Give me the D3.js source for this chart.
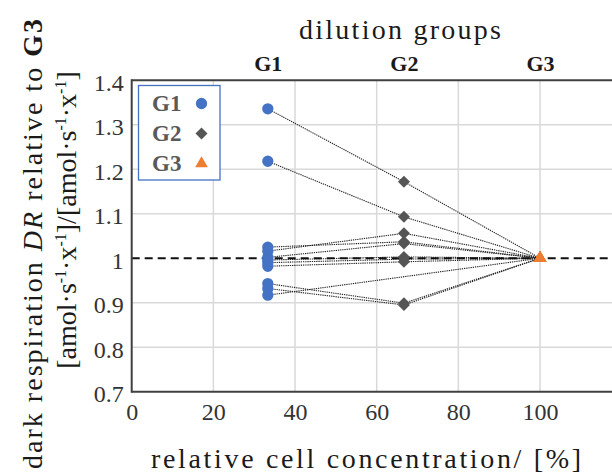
<!DOCTYPE html>
<html>
<head>
<meta charset="utf-8">
<script src="https://cdn.jsdelivr.net/npm/d3@7"></script>
<style>
  html, body { margin: 0; padding: 0; background: #fff; }
  svg { display: block; }
  text { font-family: "Liberation Serif", serif; }
</style>
</head>
<body>
<svg id="chart" width="612" height="475"></svg>
<script>
// Relative cell concentration (%) of each dilution group
const groupNames = ["G1", "G2", "G3"];
const groupConc = [100 / 3, 200 / 3, 100];

// Dark respiration of each culture, relative to its G3 value
const g1Values = [1.336, 1.218, 1.025, 1.016, 1.002, 0.996, 0.990, 0.982, 0.943, 0.932, 0.917];
const g2Values = [1.172, 1.093, 1.037, 1.056, 1.033, 1.003, 0.998, 0.992, 0.899, 0.895, null];
const g3Values = [1.000, 1.000, 1.000, 1.000, 1.000, 1.000, 1.000, 1.000, 1.000, 1.000, 1.000];

const xTicks = [0, 20, 40, 60, 80, 100];
const yTicks = [0.7, 0.8, 0.9, 1.0, 1.1, 1.2, 1.3, 1.4];
const referenceLevel = 1.0;

const groupColors = ["#4472C4", "#555555", "#ED7D31"];
const FONT = "Liberation Serif";
const TITLE_SIZE = 28;

const svg = d3.select("#chart");

const x = d3.scaleLinear().domain([0, 120]).range([131.7, 621.7]);
const y = d3.scaleLinear().domain([0.7, 1.4]).range([391.7, 80.3]);

// gridlines
const grid = svg.append("g").attr("stroke", "#d9d9d9").attr("stroke-width", 1.5);
grid.selectAll("line.v").data(xTicks.filter(d => d > 0)).join("line")
  .attr("class", "v")
  .attr("x1", d => x(d)).attr("x2", d => x(d))
  .attr("y1", y(0.7)).attr("y2", y(1.4));
grid.selectAll("line.h").data(yTicks.filter(d => d > 0.7 && d < 1.4 && d !== referenceLevel)).join("line")
  .attr("class", "h")
  .attr("x1", x(0)).attr("x2", x(120))
  .attr("y1", d => y(d)).attr("y2", d => y(d));

// one record per culture, G1 -> G2 -> G3
const cultures = g1Values.map((v, i) => [
  { g: 0, v: v },
  { g: 1, v: g2Values[i] },
  { g: 2, v: g3Values[i] }
].filter(p => p.v !== null));

const line = d3.line().x(p => x(groupConc[p.g])).y(p => y(p.v));

svg.append("g")
  .selectAll("path").data(cultures).join("path")
  .attr("d", line)
  .attr("fill", "none")
  .attr("stroke", "#222")
  .attr("stroke-width", 1.1)
  .attr("stroke-dasharray", "1.3,0.9");

// reference level
svg.append("line")
  .attr("x1", x(0)).attr("x2", x(120))
  .attr("y1", y(referenceLevel)).attr("y2", y(referenceLevel))
  .attr("stroke", "#111")
  .attr("stroke-width", 2)
  .attr("stroke-dasharray", "8,5");

// frame
const frame = svg.append("g").attr("stroke", "#404040").attr("stroke-width", 2).attr("fill", "none");
frame.append("line").attr("x1", x(0)).attr("x2", x(0)).attr("y1", y(1.4) - 1).attr("y2", y(0.7) + 1);
frame.append("line").attr("x1", x(0)).attr("x2", x(120)).attr("y1", y(1.4)).attr("y2", y(1.4));
frame.append("line").attr("x1", x(0)).attr("x2", x(120)).attr("y1", y(0.7)).attr("y2", y(0.7));

// markers
const symbols = [
  d3.symbol().type(d3.symbolCircle).size(100),
  d3.symbol().type(d3.symbolSquare).size(72),
  d3.symbol().type(d3.symbolTriangle).size(70)
];
const rotations = [0, 45, 0];
const seriesValues = [g1Values, g2Values, g3Values];

seriesValues.forEach((vals, gi) => {
  svg.append("g")
    .selectAll("path").data(vals.filter(v => v !== null)).join("path")
    .attr("d", symbols[gi]())
    .attr("transform", v => `translate(${x(groupConc[gi])},${y(v)}) rotate(${rotations[gi]})`)
    .attr("fill", groupColors[gi]);
});

// axes
const fmt = d => String(+d.toFixed(1));
const yAxis = svg.append("g")
  .attr("transform", `translate(${x(0)},0)`)
  .call(d3.axisLeft(y).tickValues(yTicks).tickFormat(fmt).tickSize(0).tickPadding(8));
yAxis.select(".domain").remove();
yAxis.selectAll("text")
  .attr("font-size", 24).attr("fill", "#333").attr("dy", "0.42em")
  .style("font-family", FONT);

const xAxis = svg.append("g")
  .attr("transform", `translate(0,${y(0.7)})`)
  .call(d3.axisBottom(x).tickValues(xTicks).tickFormat(d3.format("d")).tickSize(0).tickPadding(11));
xAxis.select(".domain").remove();
xAxis.selectAll("text")
  .attr("font-size", 24).attr("fill", "#333")
  .style("font-family", FONT);

const topAxis = svg.append("g")
  .attr("transform", `translate(0,${y(1.4)})`)
  .call(d3.axisTop(x).tickValues(groupConc).tickFormat((d, i) => groupNames[i]).tickSize(0).tickPadding(9));
topAxis.select(".domain").remove();
topAxis.selectAll("text")
  .attr("font-size", 22).attr("font-weight", "bold").attr("fill", "#1a1a1a")
  .style("font-family", FONT);

// axis titles
svg.append("text")
  .attr("x", 400).attr("y", 39)
  .attr("text-anchor", "middle")
  .attr("font-size", TITLE_SIZE).attr("fill", "#1a1a1a")
  .attr("textLength", 202).attr("lengthAdjust", "spacing")
  .text("dilution groups");

svg.append("text")
  .attr("x", 366).attr("y", 468)
  .attr("text-anchor", "middle")
  .attr("font-size", TITLE_SIZE).attr("fill", "#1a1a1a")
  .attr("textLength", 430).attr("lengthAdjust", "spacing")
  .text("relative cell concentration/ [%]");

const yTitle1 = svg.append("text")
  .attr("transform", "translate(42,244) rotate(-90)")
  .attr("text-anchor", "middle")
  .attr("font-size", TITLE_SIZE).attr("fill", "#1a1a1a")
  .attr("textLength", 450).attr("lengthAdjust", "spacing");
yTitle1.append("tspan").text("dark respiration ");
yTitle1.append("tspan").attr("font-style", "italic").text("DR");
yTitle1.append("tspan").text(" relative to ");
yTitle1.append("tspan").attr("font-weight", "bold").text("G3");

const yTitle2 = svg.append("text")
  .attr("transform", "translate(76,220) rotate(-90)")
  .attr("text-anchor", "middle")
  .attr("font-size", TITLE_SIZE).attr("fill", "#1a1a1a");
const unit = ["[amol·s", "-1", "·x", "-1", "]"];
const parts = [...unit, "/", ...unit];
parts.forEach((part, i) => {
  const sup = part === "-1";
  const after = i > 0 && parts[i - 1] === "-1";
  yTitle2.append("tspan")
    .attr("font-size", sup ? 16 : TITLE_SIZE)
    .attr("dy", sup ? "-0.62em" : (after ? "0.355em" : null))
    .text(part);
});

// legend
const legend = svg.append("g");
legend.append("rect")
  .attr("x", 138.5).attr("y", 85.5).attr("width", 81.5).attr("height", 94.5)
  .attr("fill", "#fff").attr("stroke", "#4472C4").attr("stroke-width", 1.3);
groupNames.forEach((name, i) => {
  const cy = 103.5 + i * 30;
  legend.append("text")
    .attr("x", 152).attr("y", cy + 7.5)
    .attr("font-size", 23).attr("font-weight", "bold").attr("fill", "#595959")
    .text(name);
  legend.append("path")
    .attr("d", symbols[i]())
    .attr("transform", `translate(201.5,${cy}) rotate(${rotations[i]})`)
    .attr("fill", groupColors[i]);
});
</script>
</body>
</html>
